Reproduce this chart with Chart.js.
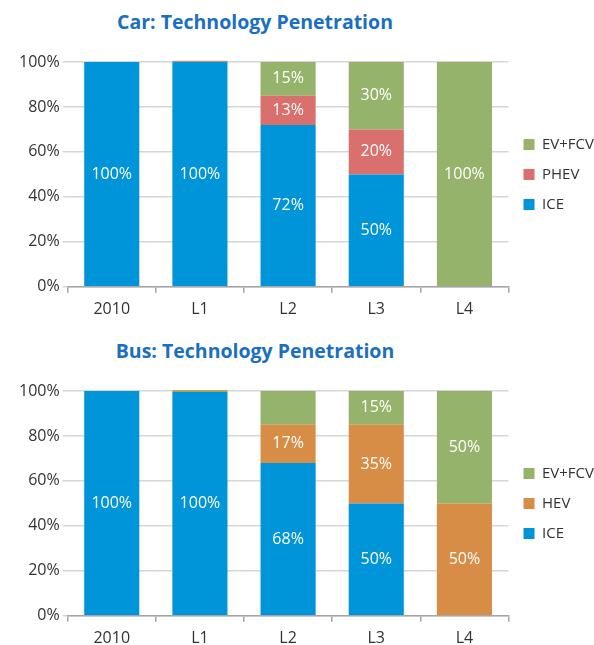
<!DOCTYPE html>
<html>
<head>
<meta charset="utf-8">
<script src="https://cdn.jsdelivr.net/npm/chart.js@4"></script>
<style>
  body { margin: 0; background: #fff; overflow: hidden; }
  .panel { position: absolute; left: 0; width: 594px; height: 326px; }
  .panel h2 {
    position: absolute; top: 8px; left: 0; width: 510px; margin: 0;
    text-align: center; font: bold 19.5px "Open Sans", sans-serif; color: #1a6fc0;
  }
  canvas { position: absolute; left: 0; top: 0; }
</style>
</head>
<body>
<div class="panel" style="top:0">
  <h2>Car: Technology Penetration</h2>
  <canvas id="car" width="594" height="326"></canvas>
</div>
<div class="panel" style="top:329px">
  <h2>Bus: Technology Penetration</h2>
  <canvas id="bus" width="594" height="326"></canvas>
</div>
<script>
const categories = ["2010", "L1", "L2", "L3", "L4"];
const yTicks = [0, 20, 40, 60, 80, 100];

// car shares (%)
const carICE = [100, 100, 72, 50, 0];
const carPHEV = [0, 0.3, 13, 20, 0];
const carEV = [0, 0.3, 15, 30, 100];

// bus shares (%)
const busICE = [100, 99.5, 68, 50, 0];
const busHEV = [0, 0.5, 17, 35, 50];
const busEV = [0, 0.5, 15, 15, 50];

// segments drawn without a value label
const busUnlabelled = { "EV+FCV": ["L2"] };

const colICE = "#0095d8";
const colPHEV = "#d9706d";
const colHEV = "#d88d47";
const colEV = "#95b36a";

const tickFont = { family: "Open Sans", size: 16 };
const legendFont = { family: "Open Sans", size: 15 };

const barLabels = {
  id: "barLabels",
  afterDatasetsDraw(chart, args, opts) {
    const ctx = chart.ctx;
    ctx.save();
    ctx.font = '16px "Open Sans"';
    ctx.fillStyle = "#fff";
    ctx.textAlign = "center";
    ctx.textBaseline = "middle";
    chart.data.datasets.forEach((ds, i) => {
      const skip = (opts.skip || {})[ds.label] || [];
      chart.getDatasetMeta(i).data.forEach((bar, j) => {
        const v = ds.data[j];
        if (v < 5 || skip.includes(chart.data.labels[j])) return;
        ctx.fillText(Math.round(v) + "%", bar.x, (bar.y + bar.base) / 2);
      });
    });
    ctx.restore();
  }
};

function makeChart(id, series, skip) {
  new Chart(document.getElementById(id), {
    type: "bar",
    data: {
      labels: categories,
      datasets: series.map(s => ({
        label: s[0],
        data: s[1],
        backgroundColor: s[2],
        borderWidth: 0,
        categoryPercentage: 1,
        barPercentage: 0.625,
        clip: false
      }))
    },
    options: {
      responsive: false,
      animation: false,
      layout: { padding: { top: 62, bottom: 0, left: 16, right: -10 } },
      scales: {
        x: {
          stacked: true,
          grid: { drawOnChartArea: false, drawTicks: true, tickLength: 6, color: "#a6a6a6", lineWidth: 1.5 },
          border: { color: "#a6a6a6", width: 1.5 },
          ticks: { color: "#333", font: tickFont, padding: 7 }
        },
        y: {
          stacked: true,
          min: 0,
          max: 100,
          afterBuildTicks: axis => { axis.ticks = yTicks.map(v => ({ value: v })); },
          grid: { color: "#d6d6d6", lineWidth: 1.5, tickLength: 5 },
          border: { display: false },
          ticks: { color: "#333", font: tickFont, padding: 3, callback: v => v + "%" }
        }
      },
      plugins: {
        legend: {
          position: "right",
          fullSize: false,
          reverse: true,
          labels: { boxWidth: 11, boxHeight: 11, padding: 15, color: "#333", font: legendFont }
        },
        tooltip: { enabled: false },
        barLabels: { skip: skip }
      }
    },
    plugins: [barLabels]
  });
}

makeChart("car", [["ICE", carICE, colICE], ["PHEV", carPHEV, colPHEV], ["EV+FCV", carEV, colEV]], {});
makeChart("bus", [["ICE", busICE, colICE], ["HEV", busHEV, colHEV], ["EV+FCV", busEV, colEV]], busUnlabelled);
</script>
</body>
</html>
